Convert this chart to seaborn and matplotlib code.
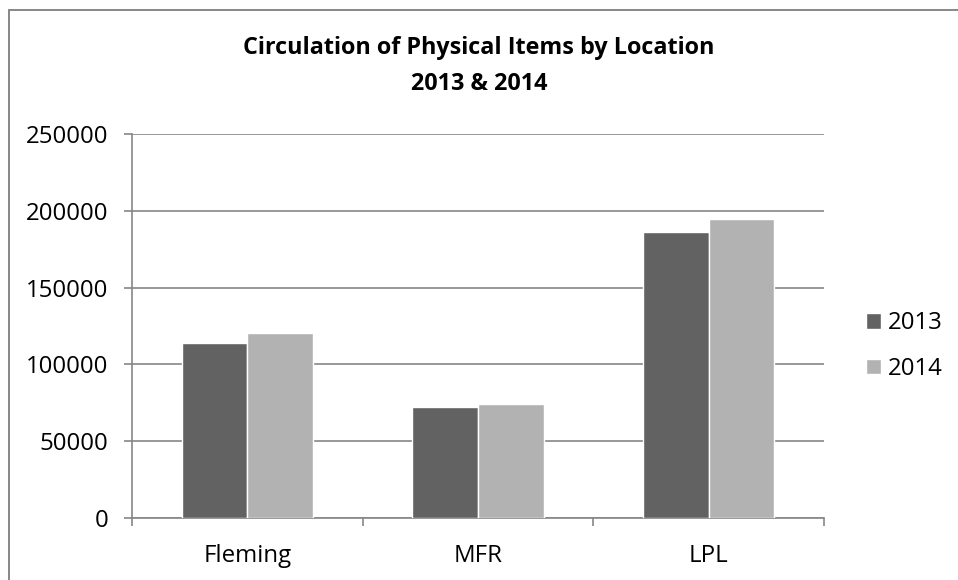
import pandas as pd
import seaborn as sns
import matplotlib.pyplot as plt
from matplotlib.lines import Line2D
from matplotlib.ticker import FixedLocator

# donnees
locations = ["Fleming", "MFR", "LPL"]
circ_2013 = [113700, 72500, 186400]
circ_2014 = [120200, 74400, 194900]
years = ["2013", "2014"]

df = pd.DataFrame({
    "Location": locations * 2,
    "Year": [years[0]] * 3 + [years[1]] * 3,
    "Circulation": circ_2013 + circ_2014,
})

sns.set_style("white")
plt.rcParams["font.family"] = ["Open Sans", "DejaVu Sans"]
plt.rcParams["text.color"] = "black"
plt.rcParams["xtick.labelcolor"] = "black"
plt.rcParams["ytick.labelcolor"] = "black"

fig = plt.figure(figsize=(9.58, 5.8), dpi=100)
ax = fig.add_axes([132 / 958, 1 - 518 / 580, (824 - 132) / 958, (518 - 134) / 580])

sns.barplot(data=df, x="Location", y="Circulation", hue="Year",
            palette=["#626262", "#b2b2b2"], saturation=1, width=0.57,
            ax=ax, legend=True, zorder=3)

ax.set_ylim(0, 250000)
ax.set_xlim(-0.5, 2.5)
ax.set_yticks(range(0, 250001, 50000))
ax.yaxis.grid(True, color="#868686", linewidth=1.2, zorder=0)
ax.set_axisbelow(True)
ax.set_xlabel("")
ax.set_ylabel("")

for side in ["top", "right"]:
    ax.spines[side].set_visible(False)
for side in ["left", "bottom"]:
    ax.spines[side].set_color("#868686")
    ax.spines[side].set_linewidth(1.2)

ax.tick_params(axis="y", length=6, width=1.2, color="#868686", labelsize=17.3,
               labelcolor="black", pad=11, left=True)
ax.tick_params(axis="x", which="major", length=0, labelsize=17.3, labelcolor="black", pad=19)
ax.xaxis.set_minor_locator(FixedLocator([-0.5, 0.5, 1.5, 2.5]))
ax.tick_params(axis="x", which="minor", length=6, width=1.2, color="#868686", bottom=True)

handles, labels = ax.get_legend_handles_labels()
leg = ax.legend(handles, labels, loc="center left", bbox_to_anchor=(866 / 958, 1 - 346 / 580),
                bbox_transform=fig.transFigure, frameon=False, fontsize=17.3,
                handlelength=0.62, handleheight=0.62, handletextpad=0.3,
                labelspacing=0.9, borderpad=0, borderaxespad=0)
for t in leg.get_texts():
    t.set_color("black")

fig.text(0.5, 1 - 48 / 580, "Circulation of Physical Items by Location",
         ha="center", va="center", fontsize=16.8, fontweight="bold", color="black")
fig.text(0.5, 1 - 84 / 580, "2013 & 2014",
         ha="center", va="center", fontsize=16.8, fontweight="bold", color="black")

# cadre du graphique (bords haut et gauche)
fig.add_artist(Line2D([8.5 / 958, 8.5 / 958], [0, 1 - 9.5 / 580],
                      transform=fig.transFigure, color="#878787", linewidth=1.4))
fig.add_artist(Line2D([8.5 / 958, 1], [1 - 9.5 / 580, 1 - 9.5 / 580],
                      transform=fig.transFigure, color="#878787", linewidth=1.4))

fig.savefig("out.png", dpi=100, facecolor="white")
